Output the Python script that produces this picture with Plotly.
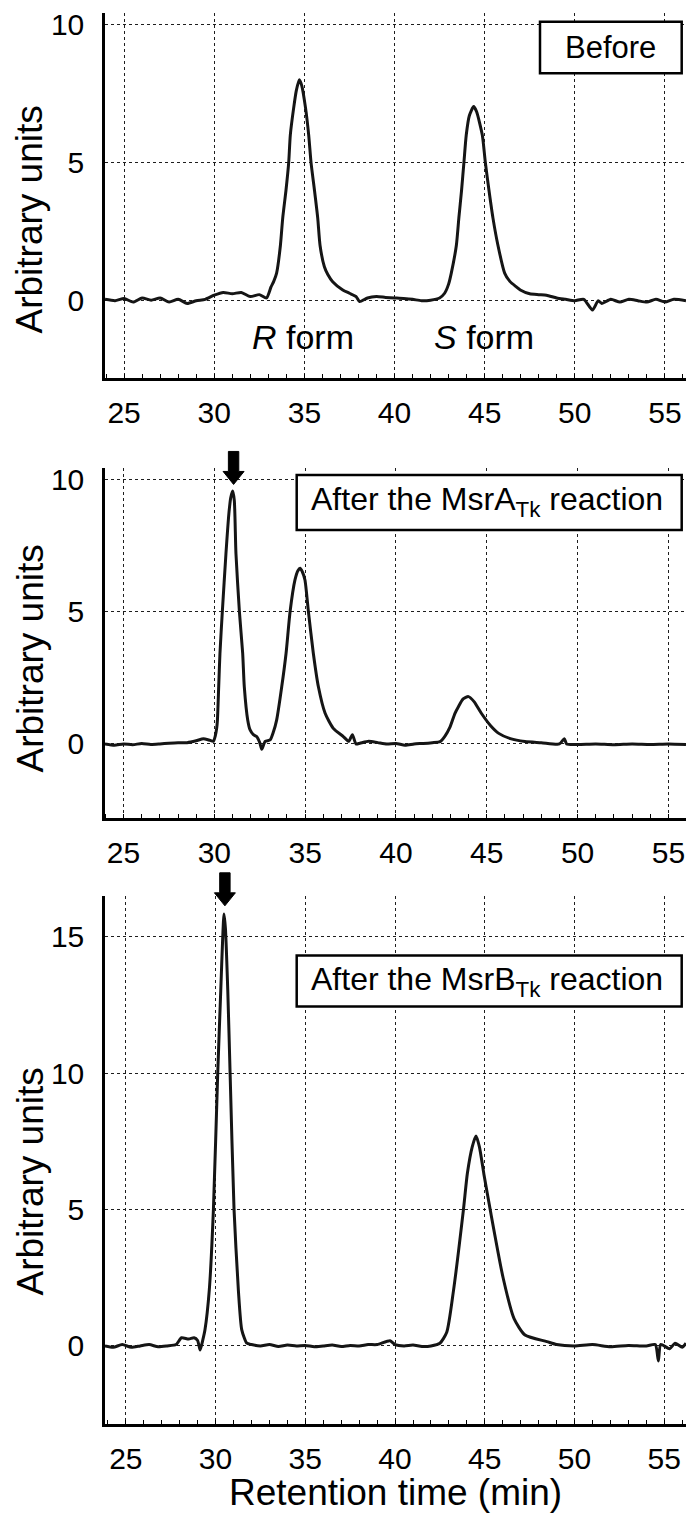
import plotly.graph_objects as go

W, H = 686, 1515

# ---------------- data ----------------
t_before = [23.94, 24.5, 25.0, 25.5, 26.0, 26.5, 27.0, 27.5, 28.0, 28.5, 29.0, 29.5, 30.0, 30.5,
            31.0, 31.5, 32.0, 32.5, 32.9, 33.15, 33.3, 33.46, 33.67, 33.8, 33.98, 34.13, 34.22,
            34.41, 34.55, 34.72, 34.85, 35.06, 35.24, 35.37, 35.56, 35.74, 35.87, 36.11, 36.3,
            36.57, 37.13, 37.5, 37.87, 38.06, 38.5, 39.0, 39.5, 40.0, 40.5, 41.0, 41.5, 42.0,
            42.5, 42.78, 43.0, 43.15, 43.43, 43.57, 43.72, 43.85, 43.98, 44.15, 44.39, 44.55,
            44.87, 45.04, 45.24, 45.46, 45.74, 46.11, 46.4, 46.76, 46.98, 47.5, 48.0, 48.43,
            49.0, 49.5, 50.0, 50.5, 50.98, 51.3, 51.5, 52.0, 52.5, 53.0, 53.5, 54.0, 54.5,
            55.0, 55.5, 56.17]
y_before = [0.05, 0.0, 0.08, -0.05, 0.1, 0.02, 0.1, -0.05, 0.05, -0.1, 0.0, 0.05, 0.2, 0.3,
            0.25, 0.3, 0.15, 0.22, 0.1, 0.5, 0.7, 1.0, 2.0, 3.0, 4.0, 5.0, 6.0,
            7.0, 7.6, 8.0, 7.8, 7.0, 6.0, 5.0, 4.0, 3.0, 2.0, 1.23, 0.95,
            0.69, 0.39, 0.27, 0.15, -0.03, 0.1, 0.15, 0.12, 0.1, 0.08, 0.05, 0.0, 0.02,
            0.1, 0.27, 0.6, 1.0, 2.0, 3.0, 4.0, 5.0, 6.0, 6.7, 7.03, 6.85,
            6.0, 5.0, 4.0, 3.0, 2.0, 1.0, 0.7, 0.5, 0.39, 0.25, 0.22, 0.2,
            0.1, 0.05, 0.0, 0.05, -0.34, 0.0, -0.1, 0.05, -0.05, 0.05, 0.0, -0.05, 0.05,
            -0.05, 0.05, 0.0]

t_msra = [23.98, 24.5, 25.0, 25.5, 26.0, 26.5, 27.0, 27.5, 28.0, 28.5, 29.0, 29.4, 29.7, 29.95,
          30.05, 30.13, 30.17, 30.24, 30.31, 30.44, 30.64, 30.8, 30.9, 31.01, 31.1, 31.19,
          31.38, 31.56, 31.65, 31.84, 31.97, 32.15, 32.33, 32.5, 32.61, 32.8, 33.07, 33.25,
          33.43, 33.71, 33.95, 34.17, 34.44, 34.6, 34.72, 34.85, 34.99, 35.18, 35.45, 35.73,
          36.1, 36.55, 37.1, 37.4, 37.6, 37.8, 38.02, 38.5, 39.0, 39.5, 40.0, 40.5, 41.0,
          41.5, 42.0, 42.43, 42.7, 42.98, 43.25, 43.44, 43.7, 43.99, 44.3, 44.7, 45.2, 45.66,
          46.3, 47.1, 48.0, 49.0, 49.27, 49.4, 50.0, 51.0, 52.0, 53.0, 54.0, 55.0, 55.97]
y_msra = [0.0, -0.05, 0.0, -0.03, 0.02, -0.02, 0.0, 0.03, 0.05, 0.05, 0.12, 0.2, 0.15, 0.1,
          0.3, 0.6, 0.9, 2.16, 3.43, 5.0, 7.2, 8.7, 9.3, 9.56, 9.2, 7.2,
          5.0, 3.43, 2.16, 0.9, 0.53, 0.35, 0.28, 0.05, -0.2, 0.1, 0.15, 0.45,
          0.9, 2.16, 3.43, 5.0, 6.2, 6.55, 6.64, 6.5, 6.2, 5.0, 3.43, 2.16,
          1.16, 0.59, 0.28, 0.1, 0.35, 0.0, 0.03, 0.1, 0.05, 0.0, 0.02, -0.05, 0.0,
          0.02, 0.05, 0.09, 0.3, 0.65, 1.16, 1.41, 1.7, 1.79, 1.6, 1.16, 0.7, 0.4,
          0.2, 0.09, 0.05, 0.0, 0.2, 0.0, -0.02, 0.0, -0.03, 0.0, -0.02, 0.0, -0.02]

t_msrb = [23.84, 24.3, 24.8, 25.3, 25.8, 26.3, 26.8, 27.3, 27.8, 28.1, 28.5, 28.8, 29.0, 29.14,
          29.29, 29.41, 29.65, 29.88, 30.12, 30.29, 30.4, 30.47, 30.55, 30.68, 30.81, 31.03,
          31.27, 31.46, 31.74, 32.0, 32.5, 33.0, 33.5, 34.0, 34.5, 35.0, 35.5, 36.0, 36.5,
          37.0, 37.5, 38.0, 38.5, 39.0, 39.72, 40.0, 40.5, 41.0, 41.5, 42.0, 42.5, 42.88,
          43.25, 43.81, 44.03, 44.3, 44.51, 44.7, 44.95, 45.3, 46.02, 46.63, 47.24, 48.46,
          49.0, 50.0, 51.0, 52.0, 53.0, 54.0, 54.5, 54.67, 54.8, 55.3, 55.6, 56.0, 56.21]
y_msrb = [0.0, -0.05, 0.05, -0.05, 0.0, 0.05, -0.03, 0.0, 0.05, 0.3, 0.25, 0.3, 0.2, -0.15,
          0.22, 0.59, 2.05, 5.0, 10.0, 13.05, 15.0, 15.84, 15.3, 13.05, 10.0, 5.0,
          2.05, 0.59, 0.1, 0.05, 0.0, 0.05, -0.02, 0.03, 0.0, 0.02, -0.03, 0.0, 0.03,
          -0.02, 0.02, 0.0, 0.05, 0.05, 0.19, 0.05, 0.0, 0.03, -0.02, 0.0, 0.1, 0.5,
          2.0, 5.0, 6.33, 7.3, 7.7, 7.3, 6.3, 5.0, 2.5, 1.0, 0.4, 0.16,
          0.05, 0.0, 0.05, -0.03, 0.02, 0.0, 0.05, -0.55, 0.05, -0.1, 0.1, -0.05, 0.1]

x_tick_vals = [25, 30, 35, 40, 45, 50, 55]
y_ticks_small = [0, 5, 10]
y_ticks_large = [0, 5, 10, 15]

panel_labels = ["Before",
                "After the MsrA<sub>Tk</sub> reaction",
                "After the MsrB<sub>Tk</sub> reaction"]
peak_labels = ["<i>R</i> form", "<i>S</i> form"]
peak_label_x = [34.94, 44.94]
peak_label_y = -1.3
y_title = "Arbitrary units"
x_title = "Retention time (min)"

# ---------------- layout geometry (pixels) ----------------
FONT = "Liberation Sans, Arial, sans-serif"
X_LEFT = 105
panels = [
    dict(top=12.7, bot=378.3, yr=[-2.81, 10.43], xr=[23.94, 56.17], yt=y_ticks_small,
         t=t_before, y=y_before),
    dict(top=468.3, bot=818.3, yr=[-2.81, 10.42], xr=[23.98, 55.97], yt=y_ticks_small,
         t=t_msra, y=y_msra),
    dict(top=896.0, bot=1424.2, yr=[-2.87, 16.5], xr=[23.84, 56.21], yt=y_ticks_large,
         t=t_msrb, y=y_msrb),
]


def py(p):
    return 1 - p / H


def px(p):
    return p / W


fig = go.Figure()
layout = dict(
    width=W, height=H,
    margin=dict(l=0, r=0, t=0, b=0, pad=0),
    paper_bgcolor="white", plot_bgcolor="white",
    showlegend=False,
    font=dict(family=FONT, color="black"),
)

grid_kw = dict(showgrid=True, gridcolor="#1e1e1e", gridwidth=1, griddash="3px,3px")

for i, p in enumerate(panels):
    n = "" if i == 0 else str(i + 1)
    fig.add_trace(go.Scatter(x=p["t"], y=p["y"], mode="lines",
                             line=dict(color="#151515", width=3, shape="spline",
                                       smoothing=0.6),
                             xaxis="x" + n, yaxis="y" + n, hoverinfo="skip"))
    layout["xaxis" + n] = dict(
        domain=[px(X_LEFT), 1.0], anchor="y" + n, range=p["xr"],
        tickmode="array", tickvals=x_tick_vals, ticks="",
        tickfont=dict(size=30, family=FONT, color="black"),
        ticklabelstandoff=6,
        showline=True, linecolor="black", linewidth=3,
        zeroline=False, automargin=False,
        minor=dict(tickmode="linear", tick0=24, dtick=1, ticks="inside", ticklen=4,
                   tickwidth=1, tickcolor="black", showgrid=False),
        **grid_kw)
    layout["yaxis" + n] = dict(
        domain=[py(p["bot"]), py(p["top"])], anchor="x" + n, range=p["yr"],
        tickmode="array", tickvals=p["yt"], ticks="",
        tickfont=dict(size=30, family=FONT, color="black"),
        ticklabelstandoff=12,
        showline=True, linecolor="black", linewidth=2.5,
        zeroline=False, automargin=False,
        **grid_kw)

fig.update_layout(**layout)

annotations = []
shapes = []

# y-axis titles
for yc in [220, 659, 1182]:
    annotations.append(dict(text=y_title, x=px(29.5), y=py(yc), xref="paper", yref="paper",
                            xanchor="center", yanchor="middle", textangle=-90,
                            showarrow=False, font=dict(size=37, family=FONT, color="black")))
# x-axis title
annotations.append(dict(text=x_title, x=px((X_LEFT + W) / 2), y=py(1492), xref="paper",
                        yref="paper", xanchor="center", yanchor="middle", showarrow=False,
                        font=dict(size=37, family=FONT, color="black")))

# panel label boxes
boxes = [
    dict(x0=540, x1=681.7, y0=21.7, y1=73.3, tx=610.8, ty=47.5, size=31),
    dict(x0=296.7, x1=681.7, y0=475, y1=530, tx=487, ty=502, size=32),
    dict(x0=296.7, x1=681.7, y0=955.4, y1=1006.6, tx=487, ty=981, size=32),
]
for b, label in zip(boxes, panel_labels):
    shapes.append(dict(type="rect", xref="paper", yref="paper",
                       x0=px(b["x0"]), x1=px(b["x1"]), y0=py(b["y1"]), y1=py(b["y0"]),
                       line=dict(color="black", width=2.5), fillcolor="white", layer="above"))
    annotations.append(dict(text=label, x=px(b["tx"]), y=py(b["ty"]), xref="paper",
                            yref="paper", xanchor="center", yanchor="middle", showarrow=False,
                            font=dict(size=b["size"], family=FONT, color="black")))

# R / S form labels (data coords, panel 1)
for lab, lx in zip(peak_labels, peak_label_x):
    annotations.append(dict(text=lab, x=lx, y=peak_label_y, xref="x", yref="y",
                            xanchor="center", yanchor="middle", showarrow=False,
                            font=dict(size=34, family=FONT, color="black")))


# arrows above the product peak (panels 2 and 3), positioned from the data
def data_to_paper(i, xv, yv):
    p = panels[i]
    fx = (xv - p["xr"][0]) / (p["xr"][1] - p["xr"][0])
    fy = (yv - p["yr"][0]) / (p["yr"][1] - p["yr"][0])
    d0, d1 = py(p["bot"]), py(p["top"])
    return px(X_LEFT) + fx * (1 - px(X_LEFT)), d0 + fy * (d1 - d0)


arrow_path = "M0,0 L-10.5,13 L-5.2,13 L-5.2,33 L5.2,33 L5.2,13 L10.5,13 Z"
for i, gap in [(1, 0.25), (2, 0.3)]:
    p = panels[i]
    k = max(range(len(p["y"])), key=lambda j: p["y"][j])
    ax_, ay_ = data_to_paper(i, p["t"][k] + 0.05, p["y"][k] + gap)
    shapes.append(dict(type="path", xref="paper", yref="paper",
                       xsizemode="pixel", ysizemode="pixel", xanchor=ax_, yanchor=ay_,
                       path=arrow_path, fillcolor="black", line=dict(color="black", width=1),
                       layer="above"))

fig.update_layout(annotations=annotations, shapes=shapes)
fig.write_html("out.html")
